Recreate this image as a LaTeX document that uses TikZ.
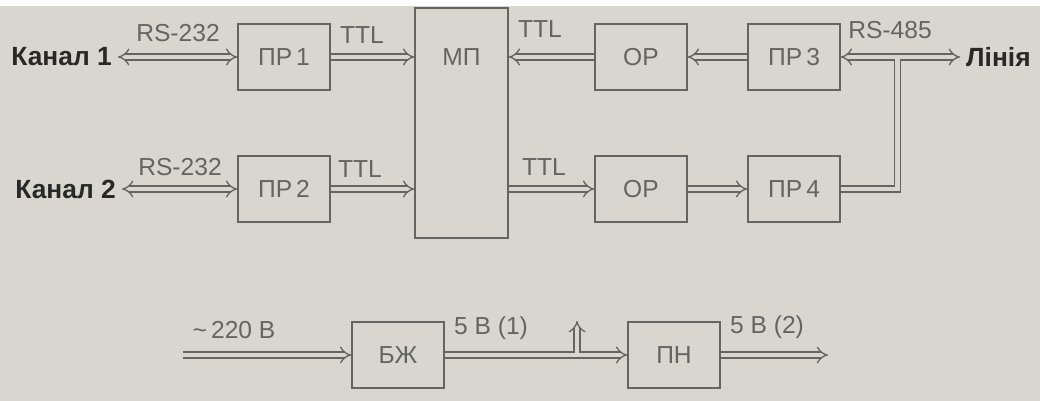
\documentclass[tikz,border=0pt]{standalone}
\usepackage{fontspec}
\setmainfont{Liberation Sans}
\usetikzlibrary{arrows.meta, positioning}
\definecolor{paper}{RGB}{217,214,208}
\definecolor{ink}{RGB}{100,100,97}
\definecolor{inkdark}{RGB}{40,40,40}
\newcommand\lblsize{\fontsize{14pt}{16pt}\selectfont}

\begin{document}
\begin{tikzpicture}[x=0.02cm, y=0.02cm,
    block/.style={draw=ink, line width=0.8pt, fill=paper, minimum width=1.84cm,
      minimum height=1.32cm, text=ink, font=\lblsize},
    lbl/.style={text=ink, font=\lblsize, inner sep=1pt},
    port/.style={text=inkdark, font=\bfseries\fontsize{15pt}{17pt}\selectfont},
    bus/.style={draw=ink, line width=0.75pt, double=paper, double distance=2.6pt, -{Implies}},
    both/.style={{Implies}-{Implies}},
    pipe/.style={draw=ink, line width=0.75pt, double=paper, double distance=2.6pt},
    core/.style={draw=paper, line width=2.6pt}]
  \useasboundingbox (0,0) rectangle (1040,401);
  \fill[paper] (0,0) rectangle (1040,401);
  \fill[white] (0,395) rectangle (1040,401);

  % blocks
  \node[block] (pr1) at (284,344) {ПР\,1};
  \node[block] (pr2) at (284,212) {ПР\,2};
  \node[block, minimum width=1.86cm, minimum height=4.6cm] (mp) at (461.5,278) {};
  \node[lbl] (mpname) at (461.5,344) {МП};
  \node[block] (or1) at (641,344) {ОР};
  \node[block] (or2) at (641,212) {ОР};
  \node[block] (pr3) at (794,344) {ПР\,3};
  \node[block] (pr4) at (794,212) {ПР\,4};
  \node[block] (bzh) at (398,46) {БЖ};
  \node[block] (pn) at (674,46) {ПН};

  \node[port, anchor=east] (k1) at (118,344) {Канал 1};
  \node[port, anchor=east] (k2) at (122,212) {Канал 2};
  \node[port, anchor=west] (lin) at (960,344) {Лінія};

  \coordinate (j) at (897.5,344);
  \coordinate (jb) at (897.5,335);
  \coordinate (p0) at (183,46);
  \coordinate (p1) at (828,46);
  \coordinate (bj) at (577,46);
  \coordinate (bjt) at (577,55);
  \coordinate (tap) at (577,80);

  % data lines
  \draw[bus, both] (k1.east) -- (pr1.west);
  \draw[bus] (pr1.east) -- (pr1.east -| mp.west);
  \draw[bus, both] (k2.east) -- (pr2.west);
  \draw[bus] (pr2.east) -- (pr2.east -| mp.west);
  \draw[bus] (or1.west) -- (or1.west -| mp.east);
  \draw[bus] (pr3.west) -- (or1.east);
  \draw[bus] (or2.west -| mp.east) -- (or2.west);
  \draw[bus] (or2.east) -- (pr4.west);
  \draw[pipe] (pr4.east) -| (j);
  \draw[bus, both] (pr3.east) -- (lin.west);
  \draw[core] (jb) -- (j);

  % power
  \draw[bus] (p0) -- (bzh.west);
  \draw[bus] (bj) -- (tap);
  \draw[bus] (bzh.east) -- (pn.west);
  \draw[core] (bj) -- (bjt);
  \draw[bus] (pn.east) -- (p1);

  \foreach \n/\x/\y/\t in {rs1/178/368/RS-232, rs2/180/234/RS-232,
      ttl1/362/366/TTL, ttl2/360/232/TTL, ttl3/540/372/TTL, ttl4/544/234/TTL,
      rs3/890/371/RS-485, vin/234/71/\textasciitilde\,220 В,
      vout1/491/73/5 В (1), vout2/767/74/5 В (2)}
    \node[lbl] (\n) at (\x,\y) {\t};
\end{tikzpicture}
\end{document}
